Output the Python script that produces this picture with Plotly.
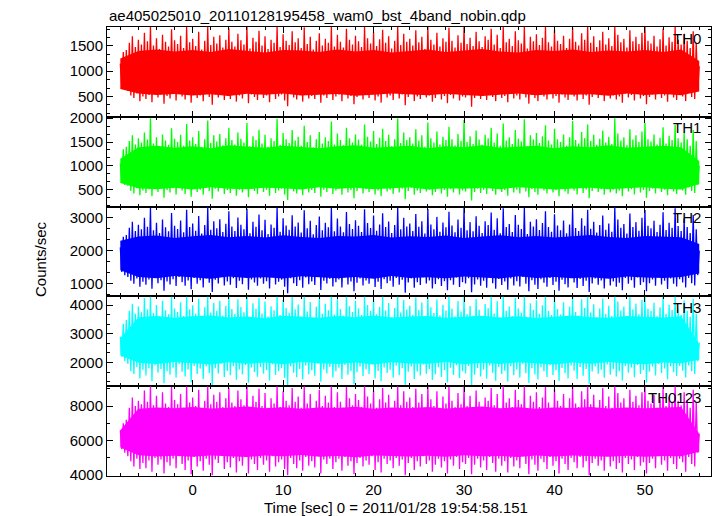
import numpy as np
import plotly.graph_objects as go

TITLE = "ae405025010_20110128195458_wam0_bst_4band_nobin.qdp"
X_TITLE = "Time [sec] 0 = 2011/01/28 19:54:58.151"
Y_TITLE = "Counts/sec"
PANEL_NAMES = ["TH0", "TH1", "TH2", "TH3", "TH0123"]
COLORS = ["#ff0000", "#00ff00", "#0000ff", "#00ffff", "#ff00ff"]

T_START = -8.0       # first time bin [sec]
T_STEP = 1.0 / 6.0   # spacing of the readings [sec]
CORE_STEP = 2.0      # spacing of the dense-core edge readings [sec]

# Readings alternate: local maximum, local minimum, local maximum, ... (counts/sec)
th0_minmax = [
    1150, 690, 1380, 640, 1420, 610, 1560, 520, 1690, 470, 1480, 560, 1620, 410, 1530, 500,
    1760, 450, 1590, 530, 1880, 390, 1510, 580, 1650, 480, 1440, 540, 1720, 360, 1580, 510,
    1490, 460, 1830, 550, 1610, 420, 1540, 590, 1700, 500, 1460, 440, 1880, 530, 1570, 380,
    1640, 570, 1500, 470, 1780, 520, 1430, 410, 1600, 560, 1880, 490, 1520, 340, 1680, 540,
    1550, 480, 1710, 600, 1470, 430, 1620, 510, 1850, 450, 1580, 570, 1490, 400, 1740, 520,
    1610, 460, 1530, 580, 1880, 370, 1450, 540, 1660, 490, 1580, 430, 1800, 560, 1510, 470,
    1690, 520, 1440, 390, 1620, 590, 1560, 450, 1880, 500, 1480, 540, 1730, 420, 1600, 310,
    1520, 560, 1790, 480, 1570, 440, 1650, 530, 1460, 400, 1870, 570, 1540, 460, 1680, 510,
    1430, 450, 1600, 600, 1750, 380, 1510, 520, 1640, 470, 1560, 550, 1880, 430, 1490, 500,
    1720, 540, 1580, 410, 1470, 580, 1840, 460, 1620, 510, 1530, 350, 1700, 490, 1590, 560,
    1480, 440, 1880, 530, 1650, 470, 1550, 590, 1770, 420, 1500, 500, 1630, 380, 1820, 550,
    1560, 480, 1690, 520, 1450, 430, 1600, 570, 1880, 460, 1520, 540, 1740, 330, 1580, 490,
    1640, 560, 1510, 410, 1810, 500, 1570, 450, 1680, 590, 1440, 480, 1880, 520, 1620, 400,
    1530, 470, 1760, 550, 1490, 440, 1650, 510, 1580, 370, 1860, 530, 1600, 460, 1470, 580,
    1710, 420, 1560, 500, 1880, 480, 1540, 560, 1660, 300, 1500, 470, 1780, 540, 1590, 450,
    1480, 520, 1690, 430, 1620, 580, 1840, 490, 1530, 410, 1720, 550, 1460, 470, 1880, 510,
    1570, 390, 1640, 560, 1500, 460, 1790, 520, 1610, 440, 1550, 590, 1880, 480, 1450, 360,
    1680, 530, 1590, 470, 1730, 410, 1520, 550, 1660, 500, 1880, 440, 1570, 580, 1490, 460,
    1820, 510, 1600, 380, 1540, 540, 1700, 480, 1460, 430, 1640, 570, 1860, 500, 1580, 420,
    1510, 560, 1750, 450, 1620, 520, 1880, 340, 1560, 490, 1690, 550, 1480, 470, 1610, 530,
    1780, 410, 1530, 590, 1650, 460, 1500, 520, 1880, 440, 1720, 500, 1570, 380, 1640, 560,
    1470, 480, 1810, 530, 1590, 420, 1680, 570, 1540, 460, 1760, 510, 1880, 350, 1600, 490,
    1550, 540, 1700, 440, 1490, 580, 1630, 470, 1840, 520, 1510, 400, 1670, 550, 1580, 480,
    1880, 430, 1620, 560, 1530, 500, 1740, 410, 1600, 570, 1460, 490, 1790, 450, 1560, 620,
    1100,
]
th1_minmax = [
    1050, 660, 1350, 600, 1400, 580, 1520, 470, 1640, 420, 1450, 530, 1580, 380, 1490, 480,
    1700, 430, 1550, 510, 2000, 360, 1470, 560, 1600, 450, 1410, 520, 1660, 330, 1530, 490,
    1440, 440, 1790, 530, 1570, 400, 1500, 570, 1650, 480, 1420, 410, 1880, 510, 1530, 350,
    1600, 550, 1460, 450, 1730, 500, 1390, 390, 1560, 540, 1950, 470, 1480, 310, 1640, 520,
    1510, 460, 1670, 580, 1430, 410, 1580, 490, 1800, 430, 1540, 550, 1450, 370, 1700, 500,
    1570, 440, 1490, 560, 1900, 340, 1410, 520, 1620, 470, 1540, 410, 1760, 540, 1470, 450,
    1650, 500, 1400, 370, 1580, 570, 1520, 430, 1990, 480, 1440, 520, 1690, 400, 1560, 280,
    1480, 540, 1750, 460, 1530, 420, 1610, 510, 1420, 380, 1840, 550, 1500, 440, 1640, 490,
    1390, 430, 1560, 580, 1710, 350, 1470, 500, 1600, 450, 1520, 530, 1930, 410, 1450, 480,
    1680, 520, 1540, 390, 1430, 560, 1800, 440, 1580, 490, 1490, 320, 1660, 470, 1550, 540,
    1440, 420, 1870, 510, 1610, 450, 1510, 570, 1730, 400, 1460, 480, 1590, 360, 1780, 530,
    1520, 460, 1650, 500, 1410, 410, 1560, 550, 2000, 440, 1480, 520, 1700, 300, 1540, 470,
    1600, 540, 1470, 390, 1770, 480, 1530, 430, 1640, 570, 1400, 460, 1910, 500, 1580, 380,
    1490, 450, 1720, 530, 1450, 420, 1610, 490, 1540, 350, 1820, 510, 1560, 440, 1430, 560,
    1670, 400, 1520, 480, 1960, 460, 1500, 540, 1620, 270, 1460, 450, 1740, 520, 1550, 430,
    1440, 500, 1650, 410, 1580, 560, 1800, 470, 1490, 390, 1680, 530, 1420, 450, 1890, 490,
    1530, 370, 1600, 540, 1460, 440, 1750, 500, 1570, 420, 1510, 570, 1980, 460, 1410, 340,
    1640, 510, 1550, 450, 1690, 390, 1480, 530, 1620, 480, 1850, 420, 1530, 560, 1450, 440,
    1780, 490, 1560, 360, 1500, 520, 1660, 460, 1420, 410, 1600, 550, 1940, 480, 1540, 400,
    1470, 540, 1710, 430, 1580, 500, 1870, 320, 1520, 470, 1650, 530, 1440, 450, 1570, 510,
    1740, 390, 1490, 570, 1610, 440, 1460, 500, 2000, 420, 1680, 480, 1530, 360, 1600, 540,
    1430, 460, 1770, 510, 1550, 400, 1640, 550, 1500, 440, 1720, 490, 1900, 330, 1560, 470,
    1510, 520, 1660, 420, 1450, 560, 1590, 450, 1810, 500, 1470, 380, 1630, 530, 1540, 460,
    1860, 410, 1580, 540, 1490, 480, 1700, 390, 1560, 550, 1420, 470, 1750, 430, 1520, 600,
    1000,
]
th2_minmax = [
    2100, 1350, 2420, 1250, 2480, 1200, 2700, 1080, 2880, 990, 2600, 1150, 2790, 900, 2650, 1050,
    3000, 960, 2730, 1120, 3300, 840, 2620, 1180, 2850, 1010, 2540, 1100, 2950, 780, 2710, 1060,
    2590, 970, 3150, 1130, 2760, 920, 2660, 1200, 2920, 1040, 2560, 930, 3250, 1090, 2720, 820,
    2830, 1170, 2610, 990, 3060, 1100, 2520, 880, 2780, 1150, 3330, 1020, 2640, 740, 2900, 1110,
    2680, 1000, 2960, 1210, 2570, 940, 2820, 1060, 3200, 960, 2740, 1160, 2600, 860, 3010, 1080,
    2790, 980, 2650, 1190, 3280, 810, 2530, 1120, 2880, 1030, 2730, 930, 3100, 1150, 2620, 990,
    2940, 1070, 2510, 850, 2800, 1200, 2700, 970, 3320, 1050, 2580, 1110, 2990, 900, 2770, 700,
    2640, 1160, 3080, 1010, 2740, 920, 2860, 1100, 2550, 870, 3230, 1180, 2680, 980, 2910, 1060,
    2500, 950, 2780, 1210, 3040, 800, 2620, 1080, 2850, 1000, 2710, 1140, 3300, 910, 2590, 1040,
    2980, 1120, 2740, 880, 2560, 1190, 3180, 970, 2810, 1060, 2660, 760, 2930, 1020, 2760, 1150,
    2570, 940, 3260, 1090, 2840, 990, 2690, 1200, 3070, 890, 2610, 1050, 2800, 830, 3140, 1130,
    2720, 1010, 2890, 1080, 2540, 900, 2780, 1170, 3310, 960, 2650, 1110, 3000, 720, 2740, 1030,
    2830, 1150, 2600, 870, 3120, 1040, 2730, 950, 2900, 1190, 2520, 1000, 3270, 1090, 2800, 850,
    2650, 980, 3030, 1130, 2580, 920, 2860, 1070, 2710, 790, 3190, 1100, 2770, 960, 2560, 1180,
    2950, 890, 2700, 1040, 3320, 1000, 2620, 1160, 2870, 730, 2590, 970, 3050, 1120, 2760, 930,
    2540, 1080, 2900, 870, 2780, 1180, 3160, 1010, 2640, 840, 2990, 1140, 2530, 950, 3290, 1060,
    2720, 810, 2810, 1150, 2570, 940, 3090, 1070, 2790, 910, 2660, 1200, 3310, 990, 2510, 760,
    2880, 1100, 2740, 960, 2960, 830, 2630, 1130, 2840, 1020, 3200, 900, 2720, 1170, 2580, 950,
    3110, 1050, 2770, 780, 2620, 1110, 2920, 980, 2530, 880, 2800, 1160, 3280, 1030, 2690, 860,
    2600, 1140, 2990, 920, 2760, 1080, 3250, 740, 2670, 1000, 2880, 1150, 2550, 960, 2780, 1090,
    3070, 850, 2640, 1190, 2830, 940, 2580, 1060, 3330, 900, 2950, 1020, 2700, 790, 2810, 1170,
    2520, 990, 3130, 1100, 2720, 870, 2870, 1180, 2610, 950, 3000, 1040, 3240, 760, 2760, 1010,
    2680, 1120, 2910, 930, 2570, 1200, 2790, 970, 3170, 1080, 2630, 830, 2850, 1150, 2700, 990,
    3290, 910, 2750, 1130, 2600, 1030, 2980, 880, 2720, 1170, 2540, 1010, 3090, 940, 2650, 1250,
    2000,
]
th3_minmax = [
    2900, 2200, 3350, 2050, 3480, 1950, 3800, 1700, 4050, 1600, 3700, 1850, 3950, 1450, 3750, 1750,
    4250, 1550, 3850, 1800, 4300, 1350, 3720, 1900, 4000, 1650, 3600, 1780, 4150, 1280, 3820, 1700,
    3680, 1580, 4300, 1820, 3880, 1480, 3760, 1950, 4100, 1680, 3620, 1520, 4300, 1760, 3850, 1320,
    3990, 1880, 3700, 1600, 4220, 1790, 3560, 1420, 3920, 1860, 4300, 1640, 3740, 1220, 4080, 1800,
    3800, 1620, 4150, 1960, 3640, 1500, 3980, 1720, 4300, 1560, 3860, 1880, 3690, 1400, 4200, 1760,
    3930, 1590, 3750, 1920, 4300, 1300, 3580, 1830, 4060, 1670, 3870, 1510, 4250, 1850, 3710, 1610,
    4120, 1740, 3600, 1380, 3960, 1940, 3820, 1570, 4300, 1700, 3650, 1800, 4180, 1460, 3900, 1200,
    3730, 1870, 4280, 1650, 3850, 1490, 4020, 1780, 3590, 1410, 4300, 1900, 3780, 1590, 4110, 1730,
    3560, 1540, 3940, 1960, 4240, 1330, 3700, 1760, 4050, 1620, 3820, 1850, 4300, 1480, 3670, 1700,
    4200, 1820, 3860, 1430, 3630, 1920, 4300, 1580, 3960, 1710, 3760, 1250, 4150, 1660, 3880, 1860,
    3650, 1530, 4300, 1770, 4000, 1600, 3790, 1940, 4230, 1450, 3680, 1710, 3930, 1350, 4300, 1830,
    3810, 1640, 4070, 1750, 3570, 1470, 3900, 1890, 4300, 1560, 3740, 1800, 4180, 1230, 3850, 1680,
    3980, 1860, 3660, 1420, 4260, 1690, 3830, 1550, 4090, 1930, 3550, 1610, 4300, 1780, 3920, 1390,
    3720, 1590, 4190, 1840, 3640, 1500, 4010, 1740, 3810, 1310, 4300, 1820, 3870, 1570, 3600, 1910,
    4140, 1460, 3770, 1700, 4300, 1620, 3690, 1880, 3970, 1210, 3630, 1580, 4210, 1810, 3840, 1520,
    3580, 1760, 4040, 1440, 3890, 1900, 4300, 1650, 3710, 1370, 4130, 1850, 3560, 1600, 4300, 1720,
    3800, 1340, 3950, 1870, 3620, 1560, 4250, 1760, 3880, 1480, 3730, 1950, 4300, 1630, 3540, 1290,
    4060, 1800, 3840, 1590, 4170, 1410, 3700, 1840, 3990, 1700, 4300, 1500, 3790, 1910, 3650, 1570,
    4280, 1730, 3860, 1360, 3670, 1810, 4100, 1640, 3590, 1450, 3940, 1890, 4300, 1720, 3760, 1430,
    3640, 1850, 4200, 1540, 3900, 1780, 4300, 1260, 3740, 1690, 4030, 1860, 3580, 1610, 3880, 1750,
    4230, 1470, 3690, 1930, 3980, 1580, 3620, 1770, 4300, 1520, 4120, 1700, 3810, 1380, 3950, 1880,
    3570, 1650, 4270, 1830, 3850, 1490, 4050, 1920, 3680, 1600, 4180, 1740, 4300, 1300, 3870, 1690,
    3790, 1860, 4080, 1550, 3610, 1950, 3920, 1640, 4300, 1790, 3700, 1420, 4010, 1870, 3830, 1660,
    4300, 1530, 3880, 1880, 3650, 1720, 4160, 1480, 3800, 1900, 3590, 1700, 4220, 1600, 3700, 2050,
    2700,
]
th0123_minmax = [
    6600, 5500, 7000, 5300, 7200, 5100, 7900, 4800, 8500, 4500, 8000, 4950, 8300, 4350, 8100, 4700,
    8900, 4400, 8250, 4850, 9150, 4200, 8050, 5000, 8600, 4600, 7850, 4900, 8800, 4100, 8150, 4750,
    7950, 4550, 9100, 4950, 8350, 4400, 8100, 5100, 8700, 4650, 7900, 4300, 9150, 4850, 8200, 4050,
    8500, 5050, 8000, 4500, 8950, 4800, 7800, 4250, 8300, 4950, 9150, 4600, 8100, 4000, 8650, 4900,
    8250, 4700, 8800, 5150, 7950, 4350, 8450, 4750, 9050, 4450, 8200, 5000, 8000, 4150, 8900, 4800,
    8400, 4550, 8050, 5050, 9150, 4100, 7850, 4900, 8600, 4650, 8250, 4300, 9000, 5000, 8000, 4600,
    8750, 4850, 7900, 4200, 8450, 5100, 8150, 4500, 9150, 4750, 7950, 4900, 8850, 4350, 8300, 4000,
    8050, 5000, 9050, 4650, 8250, 4400, 8550, 4850, 7900, 4250, 9150, 5050, 8150, 4550, 8700, 4800,
    7850, 4450, 8300, 5150, 8950, 4100, 8000, 4900, 8600, 4650, 8200, 4950, 9150, 4350, 7950, 4750,
    8800, 4950, 8250, 4250, 7900, 5050, 9100, 4550, 8450, 4800, 8050, 4050, 8700, 4700, 8350, 5000,
    7950, 4500, 9150, 4850, 8550, 4600, 8150, 5100, 8900, 4300, 7900, 4750, 8400, 4150, 9050, 4950,
    8200, 4650, 8650, 4850, 7850, 4400, 8300, 5000, 9150, 4550, 8050, 4900, 8850, 4000, 8250, 4700,
    8500, 5000, 7950, 4300, 9000, 4800, 8200, 4500, 8700, 5100, 7800, 4650, 9150, 4850, 8400, 4200,
    8000, 4600, 8850, 4950, 7900, 4450, 8550, 4800, 8150, 4100, 9100, 4900, 8300, 4550, 7950, 5050,
    8750, 4350, 8100, 4750, 9150, 4650, 8000, 5000, 8600, 4050, 7850, 4600, 8900, 4950, 8250, 4450,
    7900, 4850, 8500, 4300, 8300, 5050, 9050, 4700, 8050, 4200, 8700, 4950, 7850, 4550, 9150, 4800,
    8200, 4150, 8450, 5000, 7950, 4500, 8950, 4850, 8350, 4400, 8100, 5100, 9150, 4650, 7800, 4050,
    8600, 4900, 8250, 4600, 8800, 4250, 7950, 4950, 8500, 4750, 9100, 4350, 8200, 5050, 7900, 4550,
    9000, 4800, 8300, 4100, 8000, 4950, 8700, 4650, 7850, 4300, 8450, 5000, 9150, 4750, 8150, 4400,
    7950, 5050, 8850, 4450, 8400, 4800, 9150, 4000, 8100, 4700, 8650, 4950, 7850, 4550, 8350, 4850,
    9050, 4250, 8000, 5100, 8550, 4500, 7900, 4800, 9150, 4350, 8750, 4700, 8200, 4150, 8450, 5000,
    7850, 4650, 8950, 4900, 8250, 4300, 8600, 5050, 8050, 4550, 8800, 4750, 9150, 4100, 8300, 4700,
    8150, 4950, 8650, 4400, 7900, 5100, 8400, 4600, 9100, 4850, 8000, 4250, 8550, 5000, 8250, 4650,
    9150, 4350, 8300, 4950, 8050, 4750, 8800, 4200, 8350, 5050, 7900, 4650, 8950, 4500, 8200, 5300,
    6400,
]

# edges of the dense (solid-looking) core of each curve, one reading every CORE_STEP sec
th0_core_lo = [650, 560, 530, 550, 520, 545, 510, 555, 535, 560, 520, 540, 550, 515, 535, 560, 545,
               525, 555, 530, 510, 540, 560, 525, 550, 535, 545, 515, 560, 530, 550, 525, 600]
th0_core_hi = [1250, 1400, 1430, 1390, 1420, 1380, 1440, 1400, 1370, 1420, 1410, 1380, 1430, 1390, 1420, 1370, 1400,
               1430, 1380, 1410, 1440, 1390, 1370, 1420, 1400, 1430, 1380, 1410, 1390, 1420, 1380, 1430, 1200]
th1_core_lo = [640, 530, 510, 540, 500, 550, 520, 510, 540, 530, 500, 550, 520, 540, 510, 530, 550,
               500, 530, 520, 540, 510, 550, 530, 500, 520, 540, 510, 530, 550, 520, 500, 620]
th1_core_hi = [1150, 1390, 1420, 1380, 1410, 1370, 1430, 1400, 1380, 1420, 1390, 1370, 1410, 1430, 1380, 1400, 1420,
               1370, 1410, 1390, 1430, 1380, 1400, 1420, 1370, 1410, 1390, 1430, 1380, 1400, 1420, 1390, 1100]
th2_core_lo = [1400, 1200, 1160, 1230, 1180, 1140, 1210, 1170, 1190, 1150, 1220, 1180, 1160, 1200, 1140, 1230, 1170,
               1190, 1160, 1210, 1180, 1150, 1220, 1170, 1200, 1160, 1190, 1140, 1210, 1180, 1170, 1200, 1300]
th2_core_hi = [2300, 2430, 2460, 2390, 2440, 2480, 2410, 2450, 2400, 2470, 2420, 2390, 2450, 2430, 2480, 2400, 2440,
               2420, 2460, 2390, 2430, 2470, 2410, 2450, 2400, 2440, 2480, 2420, 2390, 2450, 2430, 2410, 2200]
th3_core_lo = [2250, 1990, 1950, 2020, 1970, 1930, 2010, 1960, 2000, 1940, 2020, 1980, 1950, 2000, 1930, 2010, 1970,
               1960, 2020, 1940, 1990, 1950, 2010, 1980, 1930, 2000, 1960, 2020, 1970, 1940, 2000, 1980, 2100]
th3_core_hi = [2850, 3580, 3620, 3560, 3610, 3640, 3570, 3600, 3550, 3630, 3590, 3560, 3620, 3580, 3640, 3570, 3600,
               3620, 3560, 3590, 3630, 3570, 3610, 3550, 3600, 3640, 3580, 3560, 3620, 3590, 3570, 3610, 2650]
th0123_core_lo = [5600, 5150, 5080, 5120, 5060, 5140, 5100, 5050, 5130, 5090, 5160, 5070, 5110, 5040, 5140, 5100, 5080,
                  5120, 5060, 5150, 5090, 5110, 5050, 5130, 5080, 5140, 5100, 5070, 5120, 5060, 5110, 5090, 5350]
th0123_core_hi = [6600, 7850, 7920, 7880, 7950, 7860, 7900, 7980, 7870, 7930, 7840, 7910, 7890, 7960, 7850, 7920, 7880,
                  7940, 7860, 7900, 7970, 7870, 7930, 7850, 7910, 7890, 7950, 7860, 7920, 7880, 7900, 7940, 6400]

READINGS = [th0_minmax, th1_minmax, th2_minmax, th3_minmax, th0123_minmax]
CORE_LO = [th0_core_lo, th1_core_lo, th2_core_lo, th3_core_lo, th0123_core_lo]
CORE_HI = [th0_core_hi, th1_core_hi, th2_core_hi, th3_core_hi, th0123_core_hi]

# axis settings (style)
X_RANGE = [-9.47, 57.3]
Y_RANGES = [[100, 1874], [143, 2030], [605, 3344], [1178, 4302], [3950, 9150]]
Y_DTICK = [500, 500, 1000, 1000, 2000]
Y_MINOR = [500 / 3, 500 / 3, 1000 / 3, 1000 / 3, 1000]

FONT = "Liberation Sans, Arial, Helvetica, sans-serif"
W, H = 717, 516
ML, MR, MT, MB = 107, 6, 27, 40
PLOT_H = H - MT - MB

fig = go.Figure()
layout = {}
n = len(READINGS)
for i in range(n):
    k = i + 1
    xa = "x" if k == 1 else f"x{k}"
    ya = "y" if k == 1 else f"y{k}"
    vals = READINGS[i]
    t = T_START + T_STEP * np.arange(len(vals))
    tc = T_START + CORE_STEP * np.arange(len(CORE_LO[i]))
    fig.add_trace(go.Scatter(
        x=list(tc) + list(tc[::-1]),
        y=list(CORE_HI[i]) + list(CORE_LO[i])[::-1],
        fill="toself", fillcolor=COLORS[i], mode="lines",
        line=dict(width=0, color=COLORS[i]),
        xaxis=xa, yaxis=ya, showlegend=False, hoverinfo="skip"))
    fig.add_trace(go.Scatter(
        x=t, y=vals, mode="lines",
        line=dict(color=COLORS[i], width=1.3),
        xaxis=xa, yaxis=ya, showlegend=False))

    top = 1 - i / n
    bot = 1 - (i + 1) / n
    xkey = "xaxis" if k == 1 else f"xaxis{k}"
    ykey = "yaxis" if k == 1 else f"yaxis{k}"
    layout[xkey] = dict(
        range=X_RANGE, anchor=ya, domain=[0, 1],
        showline=True, linecolor="black", linewidth=1, mirror="allticks",
        ticks="inside", ticklen=6, tickcolor="black", dtick=10, tick0=0,
        minor=dict(ticks="inside", ticklen=3, dtick=2, tick0=0, tickcolor="black"),
        showgrid=False, zeroline=False,
        showticklabels=(k == n),
        tickfont=dict(family=FONT, size=15, color="black"),
    )
    if k > 1:
        layout[xkey]["matches"] = "x"
    layout[ykey] = dict(
        range=Y_RANGES[i], anchor=xa, domain=[bot, top],
        showline=True, linecolor="black", linewidth=1, mirror="allticks",
        ticks="inside", ticklen=6, tickcolor="black", dtick=Y_DTICK[i], tick0=0,
        minor=dict(ticks="inside", ticklen=3, dtick=Y_MINOR[i], tick0=0, tickcolor="black"),
        showgrid=False, zeroline=False,
        tickfont=dict(family=FONT, size=15, color="black"),
    )

annotations = []
for i, name in enumerate(PANEL_NAMES):
    top = 1 - i / n
    annotations.append(dict(
        text=name, xref="paper", yref="paper",
        x=(703 - ML) / (W - ML - MR), y=top - 11 / PLOT_H,
        xanchor="right", yanchor="middle", showarrow=False,
        font=dict(family=FONT, size=15, color="black")))
annotations.append(dict(
    text=TITLE, xref="paper", yref="paper", x=0, y=(H - MB - 16) / PLOT_H,
    xanchor="left", yanchor="middle", showarrow=False,
    font=dict(family=FONT, size=15, color="black")))
annotations.append(dict(
    text=X_TITLE, xref="paper", yref="paper", x=(396 - ML) / (W - ML - MR),
    y=(H - MB - 507) / PLOT_H, xanchor="center", yanchor="middle", showarrow=False,
    font=dict(family=FONT, size=15, color="black")))
annotations.append(dict(
    text=Y_TITLE, xref="paper", yref="paper", x=(40 - ML) / (W - ML - MR),
    y=(H - MB - 259) / PLOT_H, xanchor="center", yanchor="middle", showarrow=False,
    textangle=-90, font=dict(family=FONT, size=15, color="black")))

fig.update_layout(
    width=W, height=H,
    margin=dict(l=ML, r=MR, t=MT, b=MB, pad=0),
    paper_bgcolor="white", plot_bgcolor="white",
    showlegend=False, annotations=annotations,
    **layout,
)
fig.write_html("out.html", config={"displayModeBar": False},
               post_script="document.body.style.margin='0px';")
